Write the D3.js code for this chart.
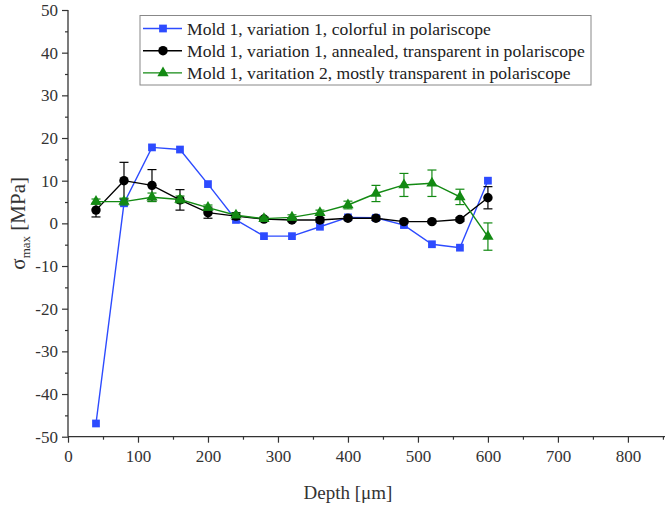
<!DOCTYPE html>
<html>
<head>
<meta charset="utf-8">
<script src="https://cdn.jsdelivr.net/npm/d3@7"></script>
<style>
  html, body { margin: 0; padding: 0; background: #fff; }
  svg { display: block; }
</style>
</head>
<body>
<svg id="chart" width="665" height="505"></svg>
<script>
// ---- data ----
const depths = [40, 80, 120, 160, 200, 240, 280, 320, 360, 400, 440, 480, 520, 560, 600];
const seriesNames = [
  "Mold 1, variation 1, colorful in polariscope",
  "Mold 1, variation 1, annealed, transparent in polariscope",
  "Mold 1, varitation 2, mostly transparent in polariscope"
];
const blueValues  = [-46.9, 4.7, 17.8, 17.3, 9.2, 0.8, -3.0, -3.0, -0.8, 1.4, 1.3, -0.4, -4.9, -5.7, 10.0];
const blackValues = [3.1, 10.0, 8.9, 5.5, 2.5, 1.7, 1.0, 0.8, 0.8, 1.2, 1.2, 0.4, 0.4, 0.9, 6.0];
const blackErrors = [1.6, 4.3, 3.7, 2.4, 1.3, 0.8, 0.4, 0.4, 0.5, 0.4, 0.5, 0.3, 0.3, 0.4, 2.6];
const greenValues = [5.1, 5.1, 6.1, 5.6, 3.7, 1.9, 1.1, 1.4, 2.5, 4.3, 7.0, 9.0, 9.4, 6.2, -3.1];
const greenErrors = [0.6, 0.8, 1.0, 0.8, 0.6, 0.5, 0.4, 0.6, 0.6, 0.9, 1.9, 2.7, 3.1, 1.8, 3.2];
const xTicks = [0, 100, 200, 300, 400, 500, 600, 700, 800];
const yTicks = [-50, -40, -30, -20, -10, 0, 10, 20, 30, 40, 50];

// ---- layout ----
const svg = d3.select("#chart");
const x = d3.scaleLinear().domain([0, 853]).range([68, 665]);
const y = d3.scaleLinear().domain([-50, 50]).range([436.7, 10]);
const axisColor = "#333";
const font = "'Liberation Serif', 'Times New Roman', serif";
const fmt = d => String(d); // plain hyphen-minus like the reference

// minor ticks
const xMinor = d3.range(50, 853, 100);
const yMinor = d3.range(-45, 50, 10);

// x axis
const gx = svg.append("g").attr("transform", `translate(0,${y(-50)})`);
gx.call(d3.axisBottom(x).tickValues(xTicks).tickSize(6).tickPadding(7).tickFormat(fmt));
gx.append("g").call(d3.axisBottom(x).tickValues(xMinor).tickSize(3).tickFormat(""))
  .select(".domain").remove();

// y axis
const gy = svg.append("g").attr("transform", `translate(${x(0)},0)`);
gy.call(d3.axisLeft(y).tickValues(yTicks).tickSize(6).tickPadding(4).tickFormat(fmt));
gy.append("g").call(d3.axisLeft(y).tickValues(yMinor).tickSize(3).tickFormat(""))
  .select(".domain").remove();

svg.selectAll(".domain").attr("stroke", axisColor).attr("stroke-width", 1.3);
svg.selectAll(".tick line").attr("stroke", axisColor).attr("stroke-width", 1.2);
svg.selectAll(".tick text").attr("font-family", font).attr("font-size", 17).attr("fill", "#333");
gy.select(".domain").attr("d", `M0,${y(-50)}V${y(50)}`);
gx.select(".domain").attr("d", `M${x(0)},0H665`);

// axis titles
svg.append("text")
  .attr("x", 348).attr("y", 499)
  .attr("text-anchor", "middle")
  .attr("font-family", font).attr("font-size", 19).attr("fill", "#333")
  .text("Depth [μm]");

const yt = svg.append("text")
  .attr("transform", `translate(25,${y(0)}) rotate(-90)`)
  .attr("text-anchor", "middle")
  .attr("font-family", font).attr("font-size", 21).attr("fill", "#333");
yt.append("tspan").text("σ");
yt.append("tspan").attr("font-size", 13).attr("dy", 5).text("max");
yt.append("tspan").attr("dy", -5).text(" [MPa]");

// ---- series ----
const series = [
  { name: seriesNames[0], values: blueValues, errors: null, color: "#2d4bff", symbol: d3.symbolSquare, size: 60 },
  { name: seriesNames[1], values: blackValues, errors: blackErrors, color: "#000000", symbol: d3.symbolCircle, size: 70 },
  { name: seriesNames[2], values: greenValues, errors: greenErrors, color: "#138a13", symbol: d3.symbolTriangle, size: 55 }
];

const line = d3.line().x(d => x(d[0])).y(d => y(d[1]));

series.forEach(s => {
  const pts = depths.map((d, i) => [d, s.values[i], s.errors ? s.errors[i] : 0]);
  const g = svg.append("g");
  g.append("path").datum(pts).attr("d", line)
    .attr("fill", "none").attr("stroke", s.color).attr("stroke-width", 1.4);
  if (s.errors) {
    const eb = g.selectAll(".eb").data(pts).enter().append("g");
    eb.append("line")
      .attr("x1", d => x(d[0])).attr("x2", d => x(d[0]))
      .attr("y1", d => y(d[1] - d[2])).attr("y2", d => y(d[1] + d[2]))
      .attr("stroke", s.color).attr("stroke-width", 1.2);
    [-1, 1].forEach(sg => {
      eb.append("line")
        .attr("x1", d => x(d[0]) - 4.5).attr("x2", d => x(d[0]) + 4.5)
        .attr("y1", d => y(d[1] + sg * d[2])).attr("y2", d => y(d[1] + sg * d[2]))
        .attr("stroke", s.color).attr("stroke-width", 1.2);
    });
  }
  g.selectAll(".m").data(pts).enter().append("path")
    .attr("d", d3.symbol().type(s.symbol).size(s.size))
    .attr("transform", d => `translate(${x(d[0])},${y(d[1])})`)
    .attr("fill", s.color);
});

// ---- legend ----
const lg = svg.append("g");
lg.append("rect").attr("x", 140).attr("y", 15.5).attr("width", 451).attr("height", 69.5)
  .attr("fill", "#fff").attr("stroke", "#888").attr("stroke-width", 1);
series.forEach((s, i) => {
  const cy = 28.5 + i * 22.2;
  lg.append("line").attr("x1", 143).attr("x2", 182).attr("y1", cy).attr("y2", cy)
    .attr("stroke", s.color).attr("stroke-width", 1.4);
  lg.append("path").attr("d", d3.symbol().type(s.symbol).size(s.size))
    .attr("transform", `translate(163,${cy})`).attr("fill", s.color);
  lg.append("text").attr("x", 187).attr("y", cy + 6)
    .attr("font-family", font).attr("font-size", 17.6).attr("fill", "#222")
    .text(s.name);
});
</script>
</body>
</html>
